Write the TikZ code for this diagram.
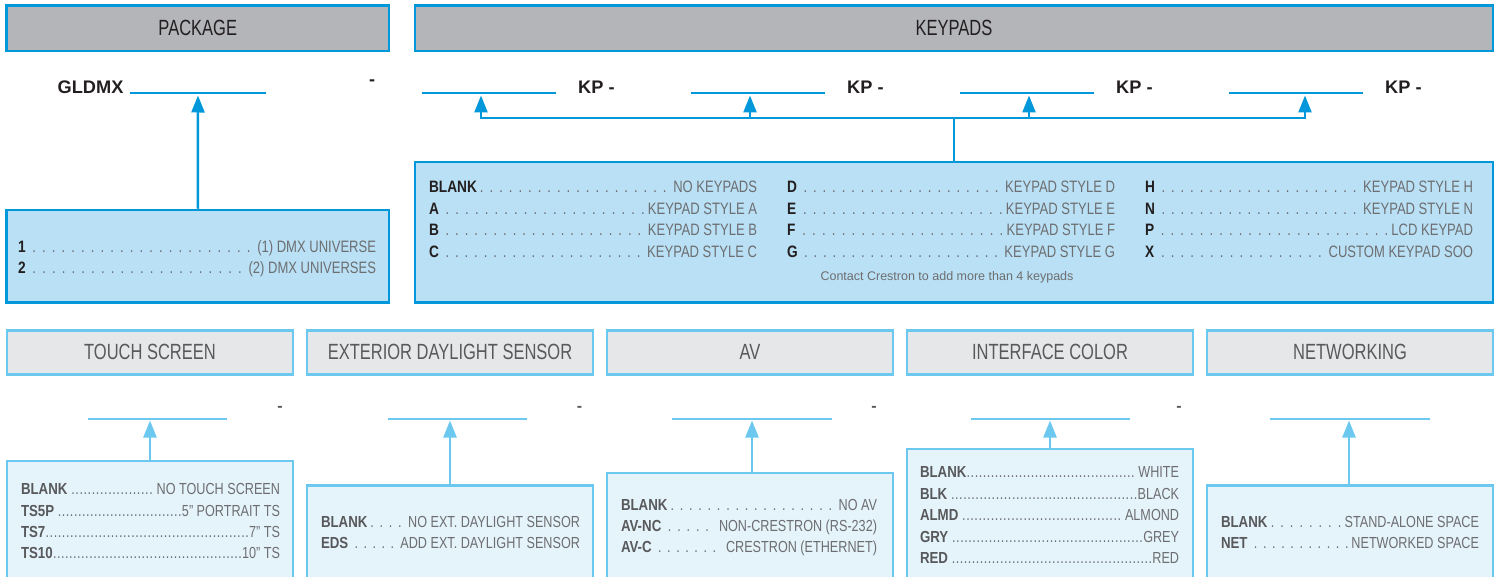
\documentclass[tikz,border=0pt]{standalone}
\usepackage{fontspec}
\setmainfont{Liberation Sans}[FakeStretch=0.79]
\newfontfamily\keyfont{Liberation Sans}[FakeStretch=0.83]
\newfontfamily\hdrfont{Liberation Sans}[FakeStretch=0.75]
\newfontfamily\bigfont{Liberation Sans}
\newfontfamily\notefont{Liberation Sans}
\usetikzlibrary{arrows.meta}
\definecolor{topblue}{HTML}{0098DA}
\definecolor{hdrgray}{HTML}{B3B5B8}
\definecolor{optblue}{HTML}{B9E0F4}
\definecolor{ltblue}{HTML}{6DC8EF}
\definecolor{hdrlight}{HTML}{E6E7E8}
\definecolor{optlight}{HTML}{E5F3FB}
\definecolor{ink}{HTML}{231F20}
\definecolor{midgray}{HTML}{6D6E71}
\definecolor{dkgray}{HTML}{58595B}
\newcommand\kt[1]{{\keyfont\bfseries\color{ink}#1}}
\newcommand\kbt[1]{{\keyfont\bfseries\color{dkgray}#1}}
\newcommand\sd{\xleaders\hbox to 9.5pt{\hss.\hss}\hfill}
\newcommand\sdb{\xleaders\hbox to 9pt{\hss.\hss}\hfill}
\newcommand\td{\xleaders\hbox to 4pt{\hss.\hss}\hfill}
\begin{document}
\begin{tikzpicture}[x=1pt,y=-1pt,
  tophdr/.style={draw=topblue, fill=hdrgray, line width=2.5pt, inner sep=0pt, text=ink, font=\hdrfont\fontsize{22}{26}\selectfont},
  topopt/.style={draw=topblue, fill=optblue, line width=2.5pt, inner sep=0pt},
  bothdr/.style={draw=ltblue, fill=hdrlight, line width=2.5pt, inner sep=0pt, text=dkgray, font=\hdrfont\fontsize{22}{26}\selectfont},
  botopt/.style={draw=ltblue, fill=optlight, line width=2.5pt, inner sep=0pt},
  topline/.style={draw=topblue, line width=2.5pt},
  botline/.style={draw=ltblue, line width=2.5pt},
  toparrow/.style={draw=topblue, fill=topblue, line width=2.5pt, -{Triangle[length=17pt,width=13pt]}},
  botarrow/.style={draw=ltblue, fill=ltblue, line width=2.5pt, -{Triangle[length=17pt,width=13pt]}},
  toprow/.style={anchor=base west, inner sep=0pt, outer sep=0pt, text=midgray, font=\fontsize{16.5}{20}\selectfont},
  botrow/.style={anchor=base west, inner sep=0pt, outer sep=0pt, text=midgray, font=\fontsize{16}{19}\selectfont},
  bigcode/.style={anchor=base west, inner sep=0pt, text=ink, font=\bigfont\bfseries\fontsize{18.2}{22}\selectfont},
  topdash/.style={anchor=base, inner sep=0pt, text=ink, font=\bigfont\bfseries\fontsize{18}{22}\selectfont},
  botdash/.style={anchor=base, inner sep=0pt, text=dkgray, font=\bigfont\bfseries\fontsize{16}{20}\selectfont}
]
\useasboundingbox (0,0) rectangle (1501,577);
\clip (0,0) rectangle (1501,577);

% ---------- top headers ----------
\node[tophdr, minimum width=382.5pt, minimum height=45.5pt] (pkgh) at (197.75,28.25) {PACKAGE};
\node[tophdr, minimum width=1078pt, minimum height=45.5pt] (kph) at (954,28.25) {KEYPADS};

% ---------- top option boxes ----------
\node[topopt, minimum width=382.5pt, minimum height=92.5pt] (pkgo) at (197.75,256.25) {};
\node[topopt, minimum width=1078pt, minimum height=140.5pt] (kpo) at (954,232.25) {};

% ---------- package code line ----------
\node[bigcode] (gldmx) at (57.5,94) {GLDMX};
\coordinate (gla) at (130,93);
\coordinate (glb) at (266,93);
\draw[topline] (gla) -- (glb);
\node[topdash] (dash0) at (372,86) {-};
\coordinate (glt) at (198,95.5);
\draw[toparrow] (pkgo.north) -- (glt);

% ---------- keypad code lines ----------
\coordinate (k1a) at (422,93); \coordinate (k1b) at (556,93);
\coordinate (k2a) at (691,93); \coordinate (k2b) at (825,93);
\coordinate (k3a) at (960,93); \coordinate (k3b) at (1094,93);
\coordinate (k4a) at (1229,93); \coordinate (k4b) at (1363,93);
\draw[topline] (k1a) -- (k1b);
\draw[topline] (k2a) -- (k2b);
\draw[topline] (k3a) -- (k3b);
\draw[topline] (k4a) -- (k4b);
\node[bigcode] (kp1) at (578,94) {KP -};
\node[bigcode] (kp2) at (847,94) {KP -};
\node[bigcode] (kp3) at (1116,94) {KP -};
\node[bigcode] (kp4) at (1385,94) {KP -};

\coordinate (bus) at (954,118);
\coordinate (b1) at (481,118); \coordinate (t1) at (481,95.5);
\coordinate (b2) at (750,118); \coordinate (t2) at (750,95.5);
\coordinate (b3) at (1029,118); \coordinate (t3) at (1029,95.5);
\coordinate (b4) at (1305,118); \coordinate (t4) at (1305,95.5);
\draw[topline] (kpo.north) -- (bus);
\draw[topline, line cap=rect] (b1) -- (b4);
\draw[toparrow] (b1) -- (t1);
\draw[toparrow] (b2) -- (t2);
\draw[toparrow] (b3) -- (t3);
\draw[toparrow] (b4) -- (t4);

% ---------- package options ----------
\node[toprow] (p1) at (18,252.5) {\hbox to 358pt{\kt{1}\ \sd\ (1) DMX UNIVERSE}};
\node[toprow] (p2) at (18,273.5) {\hbox to 358pt{\kt{2}\ \sd\ (2) DMX UNIVERSES}};

% ---------- keypad options ----------
\node[toprow] (ka1) at (429,192.7) {\hbox to 328pt{\kt{BLANK}\sd\ NO KEYPADS}};
\node[toprow] (ka2) at (429,214.3) {\hbox to 328pt{\kt{A}\ \sd KEYPAD STYLE A}};
\node[toprow] (ka3) at (429,236) {\hbox to 328pt{\kt{B}\ \sd\ KEYPAD STYLE B}};
\node[toprow] (ka4) at (429,257.7) {\hbox to 328pt{\kt{C}\ \sd\ KEYPAD STYLE C}};
\node[toprow] (kb1) at (787,192.7) {\hbox to 328pt{\kt{D}\ \sd\ KEYPAD STYLE D}};
\node[toprow] (kb2) at (787,214.3) {\hbox to 328pt{\kt{E}\ \sd KEYPAD STYLE E}};
\node[toprow] (kb3) at (787,236) {\hbox to 328pt{\kt{F}\ \sd KEYPAD STYLE F}};
\node[toprow] (kb4) at (787,257.7) {\hbox to 328pt{\kt{G}\ \sd\ KEYPAD STYLE G}};
\node[toprow] (kc1) at (1145,192.7) {\hbox to 328pt{\kt{H}\ \sd\ KEYPAD STYLE H}};
\node[toprow] (kc2) at (1145,214.3) {\hbox to 328pt{\kt{N}\ \sd\ KEYPAD STYLE N}};
\node[toprow] (kc3) at (1145,236) {\hbox to 328pt{\kt{P}\ \sd LCD KEYPAD}};
\node[toprow] (kc4) at (1145,257.7) {\hbox to 328pt{\kt{X}\ \sd\ CUSTOM KEYPAD SOO}};
\node[anchor=base, inner sep=0pt, text=midgray, font=\notefont\fontsize{12.5}{15}\selectfont] (note) at (947,280.7) {Contact Crestron to add more than 4 keypads};

% ---------- bottom headers ----------
\node[bothdr, minimum width=286pt, minimum height=44pt] (tsh) at (150,352.3) {TOUCH SCREEN};
\node[bothdr, minimum width=286pt, minimum height=44pt] (edh) at (450,352.3) {EXTERIOR DAYLIGHT SENSOR};
\node[bothdr, minimum width=286pt, minimum height=44pt] (avh) at (750,352.3) {AV};
\node[bothdr, minimum width=286pt, minimum height=44pt] (ich) at (1050,352.3) {INTERFACE COLOR};
\node[bothdr, minimum width=286pt, minimum height=44pt] (neth) at (1350,352.3) {NETWORKING};

% ---------- bottom option boxes ----------
\node[botopt, minimum width=286pt, minimum height=139pt] (tso) at (150,530.5) {};
\node[botopt, minimum width=286pt, minimum height=114.5pt] (edo) at (450,542.75) {};
\node[botopt, minimum width=286pt, minimum height=127pt] (avo) at (750,536.5) {};
\node[botopt, minimum width=286pt, minimum height=151pt] (ico) at (1050,524.5) {};
\node[botopt, minimum width=286pt, minimum height=114.5pt] (neto) at (1350,542.75) {};

% ---------- bottom code lines ----------
\coordinate (s1a) at (88,419); \coordinate (s1b) at (227,419);
\coordinate (s2a) at (388,419); \coordinate (s2b) at (527,419);
\coordinate (s3a) at (672,419); \coordinate (s3b) at (832,419);
\coordinate (s4a) at (971,419); \coordinate (s4b) at (1130,419);
\coordinate (s5a) at (1270,419); \coordinate (s5b) at (1430,419);
\draw[botline] (s1a) -- (s1b);
\draw[botline] (s2a) -- (s2b);
\draw[botline] (s3a) -- (s3b);
\draw[botline] (s4a) -- (s4b);
\draw[botline] (s5a) -- (s5b);
\node[botdash] (bd1) at (280,411.8) {-};
\node[botdash] (bd2) at (579.5,411.8) {-};
\node[botdash] (bd3) at (874,411.8) {-};
\node[botdash] (bd4) at (1179,411.8) {-};
\coordinate (u1) at (150,420.5);
\coordinate (u2) at (450,420.5);
\coordinate (u3) at (752,420.5);
\coordinate (u4) at (1050,420.5);
\coordinate (u5) at (1349,420.5);
\draw[botarrow] (tso.north -| u1) -- (u1);
\draw[botarrow] (edo.north -| u2) -- (u2);
\draw[botarrow] (avo.north -| u3) -- (u3);
\draw[botarrow] (ico.north -| u4) -- (u4);
\draw[botarrow] (neto.north -| u5) -- (u5);

% ---------- bottom option rows ----------
\node[botrow] (ts1) at (21,494) {\hbox to 259pt{\kbt{BLANK}\ \td\ NO TOUCH SCREEN}};
\node[botrow] (ts2) at (21,516) {\hbox to 259pt{\kbt{TS5P}\ \td 5” PORTRAIT TS}};
\node[botrow] (ts3) at (21,537.3) {\hbox to 259pt{\kbt{TS7}\td 7” TS}};
\node[botrow] (ts4) at (21,558.3) {\hbox to 259pt{\kbt{TS10}\td 10” TS}};

\node[botrow] (ed1) at (321,527.3) {\hbox to 259pt{\kbt{BLANK}\sdb\ NO EXT. DAYLIGHT SENSOR}};
\node[botrow] (ed2) at (321,548.3) {\hbox to 259pt{\kbt{EDS}\ \sdb\ ADD EXT. DAYLIGHT SENSOR}};

\node[botrow] (av1) at (621,510.5) {\hbox to 256pt{\kbt{BLANK}\sdb\ NO AV}};
\node[botrow] (av2) at (621,531.5) {\hbox to 256pt{\kbt{AV-NC}\ \sdb\ \ NON-CRESTRON (RS-232)}};
\node[botrow] (av3) at (621,552.5) {\hbox to 256pt{\kbt{AV-C}\ \sdb\ \ CRESTRON (ETHERNET)}};

\node[botrow] (ic1) at (920,477.5) {\hbox to 259pt{\kbt{BLANK}\td\ WHITE}};
\node[botrow] (ic2) at (920,499) {\hbox to 259pt{\kbt{BLK}\ \td BLACK}};
\node[botrow] (ic3) at (920,520.5) {\hbox to 259pt{\kbt{ALMD}\ \td\ ALMOND}};
\node[botrow] (ic4) at (920,542) {\hbox to 259pt{\kbt{GRY}\ \td GREY}};
\node[botrow] (ic5) at (920,563.5) {\hbox to 259pt{\kbt{RED}\ \td RED}};

\node[botrow] (nt1) at (1221,527.5) {\hbox to 258pt{\kbt{BLANK}\sdb STAND-ALONE SPACE}};
\node[botrow] (nt2) at (1221,548.5) {\hbox to 258pt{\kbt{NET}\ \sdb NETWORKED SPACE}};
\end{tikzpicture}
\end{document}
